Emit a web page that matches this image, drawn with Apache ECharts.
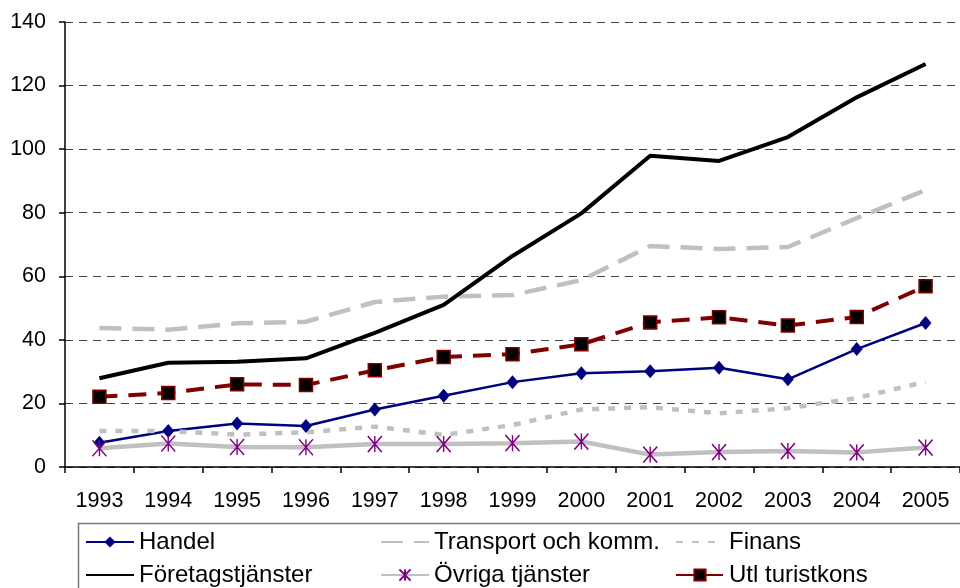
<!DOCTYPE html>
<html>
<head>
<meta charset="utf-8">
<script src="https://cdn.jsdelivr.net/npm/echarts@6/dist/echarts.min.js"></script>
<style>
  html, body { margin: 0; padding: 0; background: #fff; }
  #chart { width: 960px; height: 588px; }
</style>
</head>
<body>
<div id="chart"></div>
<script>
// years on the x axis
const years = ['1993', '1994', '1995', '1996', '1997', '1998', '1999', '2000', '2001', '2002', '2003', '2004', '2005'];

// values
const handel = [7.6, 11.3, 13.7, 12.9, 18.1, 22.4, 26.7, 29.5, 30.1, 31.2, 27.6, 37.1, 45.3];
const transport = [43.7, 43.2, 45.2, 45.7, 51.9, 53.6, 54.1, 58.8, 69.5, 68.6, 69.2, 78.3, 87.1];
const finans = [11.3, 11.3, 10.2, 10.9, 12.7, 10.1, 13.2, 18.1, 18.8, 16.9, 18.5, 21.7, 26.8];
const foretag = [27.9, 32.8, 33.1, 34.2, 42.2, 51.0, 66.4, 79.8, 97.9, 96.3, 103.8, 116.3, 126.8];
const ovriga = [5.9, 7.4, 6.3, 6.2, 7.2, 7.2, 7.5, 8.0, 3.9, 4.7, 5.0, 4.6, 6.1];
const turist = [22.1, 23.3, 26.0, 25.8, 30.4, 34.6, 35.5, 38.6, 45.5, 47.1, 44.5, 47.2, 56.9];

const font = "'Liberation Sans', Arial, sans-serif";
const asterisk = 'path://M0,0 L14,16 M14,0 L0,16 M7,0 L7,16';

const chart = echarts.init(document.getElementById('chart'));

// lines without markers: hide the dot ECharts puts in the legend
const noMark = name => ({name: name, itemStyle: {opacity: 0}});

const legendBase = {
    orient: 'vertical',
    top: 530,
    itemWidth: 48,
    itemHeight: 14,
    itemGap: 9,
    padding: 0,
    textStyle: {fontFamily: font, fontSize: 24, color: '#000', lineHeight: 24}
};

chart.setOption({
    animation: false,
    backgroundColor: '#fff',
    textStyle: {fontFamily: font},
    grid: {left: 65, top: 22, width: 902, height: 445, containLabel: false},
    legend: [
        Object.assign({}, legendBase, {left: 85, data: ['Handel', noMark('Företagstjänster')]}),
        Object.assign({}, legendBase, {left: 380, data: [noMark('Transport och komm.'), 'Övriga tjänster']}),
        Object.assign({}, legendBase, {left: 675, data: [noMark('Finans'), 'Utl turistkons']})
    ],
    graphic: [{
        type: 'rect',
        shape: {x: 78.5, y: 523.5, width: 900, height: 80},
        style: {fill: 'none', stroke: '#777', lineWidth: 1.5},
        silent: true
    }],
    xAxis: {
        type: 'category',
        data: years,
        boundaryGap: true,
        axisLine: {lineStyle: {color: '#000', width: 1.5}},
        axisTick: {show: true, length: 6, lineStyle: {color: '#000', width: 1.5}},
        axisLabel: {fontFamily: font, fontSize: 21.5, color: '#000', margin: 23}
    },
    yAxis: {
        type: 'value',
        min: 0,
        max: 140,
        interval: 20,
        axisLine: {show: true, lineStyle: {color: '#000', width: 1.5}},
        axisTick: {show: true, length: 6, lineStyle: {color: '#000', width: 1.5}},
        axisLabel: {fontFamily: font, fontSize: 21.5, color: '#000', margin: 19, padding: [4, 0, 0, 0]},
        splitLine: {lineStyle: {color: '#444', type: [8, 6], width: 1}}
    },
    series: [
        {
            name: 'Handel', type: 'line', data: handel,
            symbol: 'diamond', symbolSize: [12, 14],
            lineStyle: {color: '#000080', width: 2.5},
            itemStyle: {color: '#000080'}
        },
        {
            name: 'Transport och komm.', type: 'line', data: transport,
            symbol: 'none',
            lineStyle: {color: '#c0c0c0', width: 4.5, type: [22, 11]},
            itemStyle: {color: '#c0c0c0'}
        },
        {
            name: 'Finans', type: 'line', data: finans,
            symbol: 'none',
            lineStyle: {color: '#c0c0c0', width: 4.5, type: [7, 9]},
            itemStyle: {color: '#c0c0c0'}
        },
        {
            name: 'Företagstjänster', type: 'line', data: foretag,
            symbol: 'none',
            lineStyle: {color: '#000', width: 4},
            itemStyle: {color: '#000'}
        },
        {
            name: 'Övriga tjänster', type: 'line', data: ovriga,
            symbol: asterisk, symbolSize: [14, 16],
            lineStyle: {color: '#c0c0c0', width: 4.5},
            itemStyle: {color: '#800080', borderColor: '#800080', borderWidth: 1.5}
        },
        {
            name: 'Utl turistkons', type: 'line', data: turist,
            symbol: 'rect', symbolSize: 13,
            lineStyle: {color: '#800000', width: 4, type: [18, 11]},
            itemStyle: {color: '#000', borderColor: '#800000', borderWidth: 1.5}
        }
    ]
});
</script>
</body>
</html>
